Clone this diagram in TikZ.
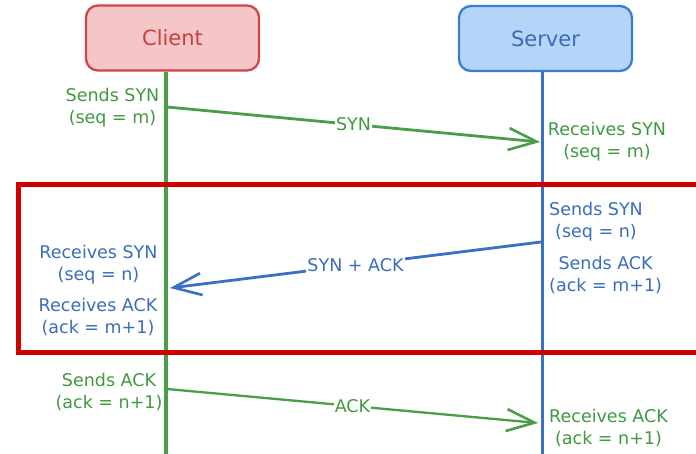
\documentclass[tikz,border=0pt]{standalone}
\usepackage{fontspec}
\setmainfont{DejaVu Sans}
\usetikzlibrary{arrows.meta}
\definecolor{grn}{HTML}{4A9E48}
\definecolor{grntxt}{HTML}{3F9A3F}
\definecolor{blu}{HTML}{3A70C6}
\definecolor{blutxt}{HTML}{3A6DBE}
\definecolor{rdbox}{HTML}{D00000}
\definecolor{cfill}{HTML}{F5C6C7}
\definecolor{cdraw}{HTML}{D0454A}
\definecolor{ctxt}{HTML}{C8403F}
\definecolor{sfill}{HTML}{B4D5F7}
\definecolor{sdraw}{HTML}{3D7BD0}
\definecolor{stxt}{HTML}{3A6BB5}
\begin{document}
\begin{tikzpicture}[x=1pt,y=-1pt,
  lbl/.style={font=\fontsize{17.5}{22}\selectfont, align=center, inner sep=0pt},
  actor/.style={rounded corners=12pt, line width=2.3pt, minimum width=173pt, minimum height=65pt, font=\fontsize{21}{25}\selectfont, inner sep=0pt},
  msg/.style={line width=2.8pt, -{Straight Barb[length=28pt,width=22pt,line width=2.6pt]}},
  tag/.style={font=\fontsize{17.5}{21}\selectfont, fill=white, inner sep=1pt}]
\useasboundingbox (0,0) rectangle (696,454);
\clip (0,0) rectangle (696,454);
\fill[white] (0,0) rectangle (696,454);

% actors
\node[actor, fill=cfill, draw=cdraw, text=ctxt] (client) at (172.5,38) {Client};
\node[actor, fill=sfill, draw=sdraw, text=stxt] (server) at (545.5,38.5) {Server};

% lifeline ends
\coordinate (cend) at (166,460);
\coordinate (send) at (542,460);
\draw[grn, line width=3.5pt] (client.south -| cend) -- (cend);
\draw[blu, line width=3pt] (server.south -| send) -- (send);

% highlight rectangle
\draw[rdbox, line width=5pt] (18,185) rectangle (710,352);

% message points
\coordinate (syn1) at (167,107);
\coordinate (syn2) at (540,142);
\coordinate (sa1) at (541,242);
\coordinate (sa2) at (170,288);
\coordinate (ack1) at (167,389);
\coordinate (ack2) at (538,423);

\draw[msg, grn] (syn1) -- (syn2) node[tag, text=grntxt, pos=0.5] (tsyn) {SYN};
\draw[msg, blu] (sa1) -- (sa2) node[tag, text=blutxt, pos=0.5] (tsa) {SYN + ACK};
\draw[msg, grn, line width=2.3pt] (ack1) -- (ack2) node[tag, text=grntxt, pos=0.5] (tack) {ACK};

% annotations
\node[lbl, text=grntxt] (a1) at (112.5,108) {Sends SYN\\(seq = m)};
\node[lbl, text=grntxt] (a2) at (607,142) {Receives SYN\\(seq = m)};
\node[lbl, text=blutxt] (a3) at (596,221.5) {Sends SYN\\(seq = n)};
\node[lbl, text=blutxt, anchor=west] (a4) at (549,275) {Sends ACK\\(ack = m+1)};
\node[lbl, text=blutxt] (a5) at (98.5,265) {Receives SYN\\(seq = n)};
\node[lbl, text=blutxt] (a6) at (98,317) {Receives ACK\\(ack = m+1)};
\node[lbl, text=grntxt] (a7) at (109,392) {Sends ACK\\(ack = n+1)};
\node[lbl, text=grntxt] (a8) at (608.5,428) {Receives ACK\\(ack = n+1)};
\end{tikzpicture}
\end{document}
